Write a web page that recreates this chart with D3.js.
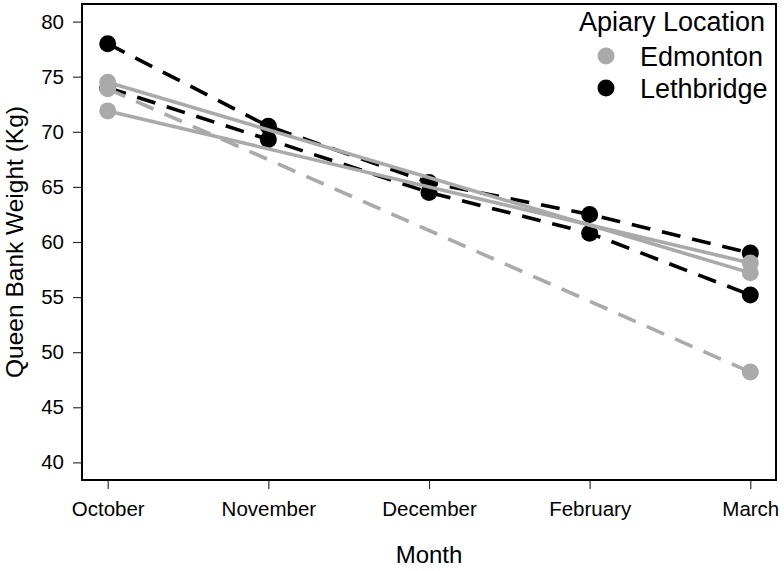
<!DOCTYPE html>
<html>
<head>
<meta charset="utf-8">
<script src="https://cdn.jsdelivr.net/npm/d3@7"></script>
<style>
  html, body { margin: 0; padding: 0; background: #fff; }
  svg { display: block; font-family: "Liberation Sans", Arial, sans-serif; }
</style>
</head>
<body>
<svg id="chart" width="784" height="571"></svg>
<script>
// ---- data ----
const months = ["October", "November", "December", "February", "March"];
// Edmonton (grey) measured only in October and March
const edmontonSolidA = [74.5, null, null, null, 57.2];
const edmontonSolidB = [71.9, null, null, null, 58.1];
const edmontonDashed = [73.9, null, null, null, 48.2];
// Lethbridge (black)
const lethbridgeA = [78.0, 70.5, 65.4, 62.5, 59.0];
const lethbridgeB = [74.0, 69.3, 64.5, 60.8, 55.2];
const yTicks = [40, 45, 50, 55, 60, 65, 70, 75, 80];
const legendLabels = ["Edmonton", "Lethbridge"];

const GREY = "#aaaaaa", BLACK = "#000000";

const series = [
  { values: lethbridgeA, color: BLACK, dash: "19,12" },
  { values: lethbridgeB, color: BLACK, dash: "19,12" },
  { values: edmontonSolidA, color: GREY, dash: null },
  { values: edmontonSolidB, color: GREY, dash: null },
  { values: edmontonDashed, color: GREY, dash: "19,12" }
];

// ---- layout ----
const box = { left: 82, right: 776, top: 4, bottom: 480 };
const svg = d3.select("#chart");

const x = d3.scaleLinear().domain([0.84, 5.16]).range([box.left, box.right]);
const y = d3.scaleLinear().domain([38.4, 81.6]).range([box.bottom, box.top]);

// axes
const xAxis = d3.axisBottom(x).tickValues([1, 2, 3, 4, 5])
  .tickFormat(d => months[d - 1]).tickSize(9).tickPadding(12);
const yAxis = d3.axisLeft(y).tickValues(yTicks).tickSize(9).tickPadding(9);

const gx = svg.append("g").attr("transform", `translate(0,${box.bottom})`).call(xAxis);
const gy = svg.append("g").attr("transform", `translate(${box.left},0)`).call(yAxis);
[gx, gy].forEach(g => {
  g.select(".domain").remove();
  g.selectAll(".tick line").attr("stroke", "#333").attr("stroke-width", 1.2);
  g.selectAll(".tick text").attr("font-size", 20.5).attr("fill", "#000")
    .attr("font-family", "Liberation Sans, Arial, sans-serif");
});

// box
svg.append("rect")
  .attr("x", box.left).attr("y", box.top)
  .attr("width", box.right - box.left).attr("height", box.bottom - box.top)
  .attr("fill", "none").attr("stroke", "#000").attr("stroke-width", 2);

// axis titles
svg.append("text").attr("x", (box.left + box.right) / 2).attr("y", 563)
  .attr("text-anchor", "middle").attr("font-size", 24).text("Month");
svg.append("text").attr("transform", `translate(23,${(box.top + box.bottom) / 2}) rotate(-90)`)
  .attr("text-anchor", "middle").attr("font-size", 24.5).text("Queen Bank Weight (Kg)");

// lines and points
const line = d3.line().x(d => x(d.i + 1)).y(d => y(d.v));
const plot = svg.append("g");

function pts(s) {
  return s.values.map((v, i) => ({ v, i })).filter(d => d.v != null);
}

function drawGroup(group) {
  group.forEach(s => {
    plot.append("path").datum(pts(s))
      .attr("d", line).attr("fill", "none")
      .attr("stroke", s.color).attr("stroke-width", 3.6)
      .attr("stroke-dasharray", s.dash);
  });
  group.forEach(s => {
    plot.selectAll(null).data(pts(s)).enter().append("circle")
      .attr("cx", d => x(d.i + 1)).attr("cy", d => y(d.v))
      .attr("r", 8.5).attr("fill", s.color);
  });
}
drawGroup(series.filter(s => s.color === BLACK));
drawGroup(series.filter(s => s.color === GREY));

// legend
const lg = svg.append("g");
lg.append("text").attr("x", 765).attr("y", 31).attr("text-anchor", "end")
  .attr("font-size", 27).text("Apiary Location");
const legendColors = [GREY, BLACK];
legendLabels.forEach((lab, k) => {
  const cy = 56 + k * 32;
  lg.append("circle").attr("cx", 606).attr("cy", cy).attr("r", 8.5).attr("fill", legendColors[k]);
  lg.append("text").attr("x", 640).attr("y", cy + 10).attr("font-size", 27).text(lab);
});
</script>
</body>
</html>
